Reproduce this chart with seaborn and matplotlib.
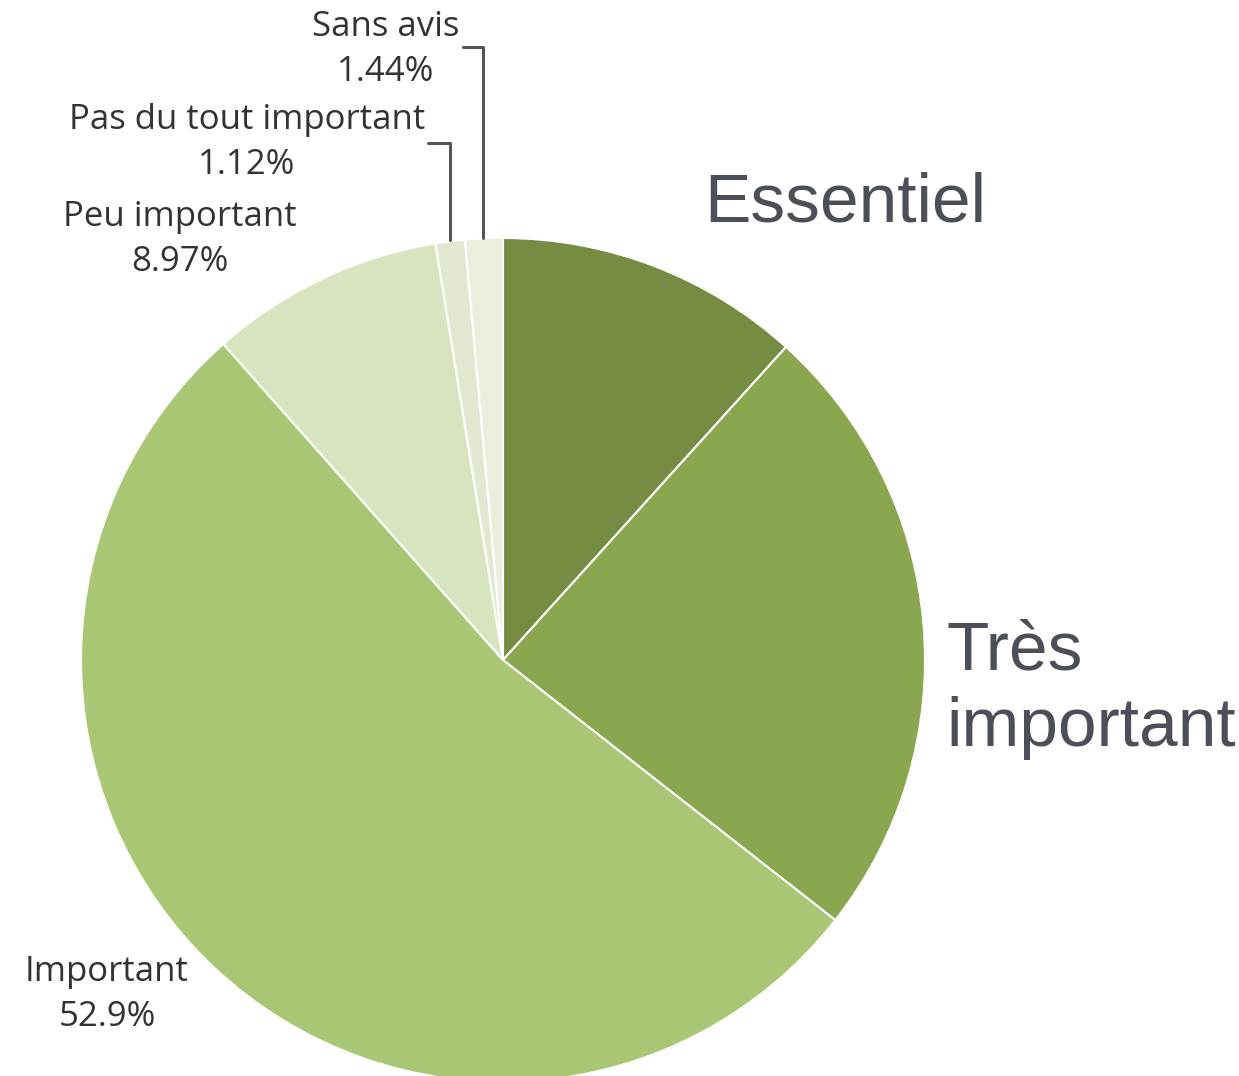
import matplotlib
matplotlib.use("Agg")
import matplotlib.pyplot as plt
import seaborn as sns

sns.set_theme(style="white")
plt.rcParams['font.family'] = ['Open Sans', 'DejaVu Sans']

categories = ["Essentiel", "Très important", "Important", "Peu important",
              "Pas du tout important", "Sans avis"]
values = [11.7, 23.87, 52.9, 8.97, 1.12, 1.44]
value_labels = ["", "", "52.9%", "8.97%", "1.12%", "1.44%"]
colors = ["#758C42", "#8AA64E", "#A9C674", "#D8E4C0", "#E0E9CF", "#E8EFDC"]

W, H = 1239, 1076
fig = plt.figure(figsize=(W / 100, H / 100), dpi=100)
ax = fig.add_axes([0, 0, 1, 1])

cx, cy, r = 503, H - 660, 422
ax.pie(values, colors=colors, startangle=90, counterclock=False,
       center=(cx, cy), radius=r, frame=True,
       wedgeprops=dict(edgecolor="white", linewidth=1.5))
ax.set_xlim(0, W)
ax.set_ylim(0, H)
ax.set_aspect("equal")
ax.axis("off")

small = dict(fontsize=25, color="#333333", ha="center", va="center")
def lab(x, y, name, val):
    ax.text(x, H - y, name, **small)
    ax.text(x, H - y - 45, val, **small)

lab(386, 27, categories[5], value_labels[5])
lab(247, 120, categories[4], value_labels[4])
lab(180, 217, categories[3], value_labels[3])
lab(107, 972, categories[2], value_labels[2])

# leader lines
ax.plot([463, 483, 483], [H - 47, H - 47, H - 238], color="#555555", lw=2.2)
ax.plot([428, 450, 450], [H - 143, H - 143, H - 240], color="#555555", lw=2.2)

big = dict(fontsize=50, color="#4B4F58", family=["Liberation Sans", "DejaVu Sans"],
           va="center", ha="left")
ax.text(704, H - 203, categories[0], **big)
ax.text(946, H - 690, "Très\nimportant", linespacing=1.25, **big)

fig.savefig("out.png", dpi=100)
